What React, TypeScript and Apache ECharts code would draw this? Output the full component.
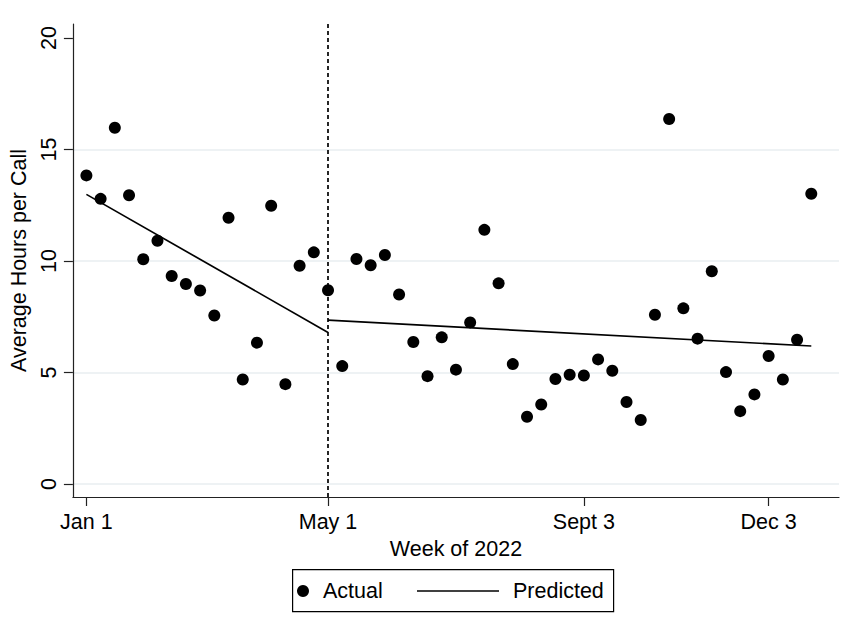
import React, { useEffect, useRef } from "react";
import * as echarts from "echarts";

// Weekly actual average hours per call (week index 0 = Jan 1, 2022)
const actualHours = [
  13.84, 12.79, 15.98, 12.95, 10.08, 10.91, 9.33, 8.97, 8.68, 7.56,
  11.94, 4.69, 6.34, 12.48, 4.48, 9.79, 10.39, 8.69, 5.29, 10.09,
  9.81, 10.27, 8.5, 6.37, 4.84, 6.58, 5.13, 7.25, 11.4, 9.0,
  5.38, 3.02, 3.57, 4.71, 4.9, 4.87, 5.59, 5.08, 3.68, 2.87,
  7.59, 16.37, 7.88, 6.52, 9.54, 5.02, 3.27, 4.02, 5.74, 4.69,
  6.47, 13.02,
];

// Predicted (fitted) segments: [week, hours]
const predictedBefore = [
  [0, 12.99],
  [17, 6.8],
];
const predictedAfter = [
  [17, 7.35],
  [51, 6.19],
];

const breakWeek = 17;
const xTickWeeks = [0, 17, 35, 48];
const xTickLabels = ["Jan 1", "May 1", "Sept 3", "Dec 3"];
const yTicks = [0, 5, 10, 15, 20];

const FONT = "'Liberation Sans', Arial, sans-serif";
const FS = 21.5;

export default function App() {
  const ref = useRef<HTMLDivElement>(null);

  useEffect(() => {
    if (!ref.current) return;
    const chart = echarts.init(ref.current, undefined, { renderer: "svg" });

    const scatterData = actualHours.map((v, i) => [i, v]);
    const grid = "#e8eef1";
    const axisColor = "#222";

    chart.setOption({
      animation: false,
      backgroundColor: "#fff",
      textStyle: { fontFamily: FONT },
      grid: { left: 71, right: 11, top: 24, bottom: 140, containLabel: false },
      xAxis: {
        type: "value",
        min: -0.95,
        max: 52.95,
        name: "Week of 2022",
        nameLocation: "middle",
        nameGap: 38,
        nameTextStyle: { fontFamily: FONT, fontSize: FS, color: "#000" },
        axisLine: { show: true, onZero: false, lineStyle: { color: axisColor, width: 1.2 } },
        axisTick: {
          show: true,
          length: 9,
          customValues: xTickWeeks,
          lineStyle: { color: axisColor, width: 1.2 },
        },
        axisLabel: {
          customValues: xTickWeeks,
          margin: 14,
          fontFamily: FONT,
          fontSize: FS,
          color: "#000",
          formatter: (v: number) => {
            const i = xTickWeeks.indexOf(Math.round(v));
            return i >= 0 ? xTickLabels[i] : "";
          },
        },
        splitLine: { show: false },
      },
      yAxis: {
        type: "value",
        min: -0.58,
        max: 20.63,
        name: "Average Hours per Call",
        nameLocation: "middle",
        nameGap: 40,
        nameRotate: 90,
        nameTextStyle: { fontFamily: FONT, fontSize: FS, color: "#000" },
        axisLine: { show: true, onZero: false, lineStyle: { color: axisColor, width: 1.2 } },
        axisTick: {
          show: true,
          length: 9,
          customValues: yTicks,
          lineStyle: { color: axisColor, width: 1.2 },
        },
        axisLabel: {
          customValues: yTicks,
          rotate: 90,
          margin: 13,
          fontFamily: FONT,
          fontSize: FS,
          color: "#000",
        },
        splitLine: {
          show: true,
          lineStyle: { color: [grid, grid, grid, grid, "rgba(0,0,0,0)"], width: 1.5 },
        },
      },
      series: [
        {
          name: "Predicted",
          type: "line",
          data: predictedBefore,
          symbol: "none",
          lineStyle: { color: "#000", width: 1.7 },
          z: 2,
        },
        {
          name: "Predicted",
          type: "line",
          data: predictedAfter,
          symbol: "none",
          lineStyle: { color: "#000", width: 1.7 },
          z: 2,
        },
        {
          name: "Actual",
          type: "scatter",
          data: scatterData,
          symbol: "circle",
          symbolSize: 12,
          itemStyle: { color: "#000", opacity: 1 },
          z: 3,
          markLine: {
            silent: true,
            symbol: "none",
            label: { show: false },
            lineStyle: { color: "#000", type: [4, 3], width: 1.7, opacity: 1 },
            data: [{ xAxis: breakWeek }],
          },
        },
      ],
      graphic: [
        {
          type: "rect",
          left: 292,
          top: 569,
          shape: { width: 321, height: 42 },
          style: { fill: "#fff", stroke: "#000", lineWidth: 1.2 },
        },
        {
          type: "circle",
          shape: { cx: 303, cy: 591, r: 6 },
          style: { fill: "#000" },
        },
        {
          type: "text",
          x: 323,
          y: 591,
          style: {
            text: "Actual",
            fontFamily: FONT,
            fontSize: FS,
            fill: "#000",
            verticalAlign: "middle",
            textAlign: "left",
          },
        },
        {
          type: "line",
          shape: { x1: 417, y1: 591, x2: 499, y2: 591 },
          style: { stroke: "#000", lineWidth: 1.7 },
        },
        {
          type: "text",
          x: 513,
          y: 591,
          style: {
            text: "Predicted",
            fontFamily: FONT,
            fontSize: FS,
            fill: "#000",
            verticalAlign: "middle",
            textAlign: "left",
          },
        },
      ],
    });

    return () => chart.dispose();
  }, []);

  return (
    <div
      ref={ref}
      style={{ position: "fixed", left: 0, top: 0, width: 850, height: 637, background: "#fff" }}
    />
  );
}
